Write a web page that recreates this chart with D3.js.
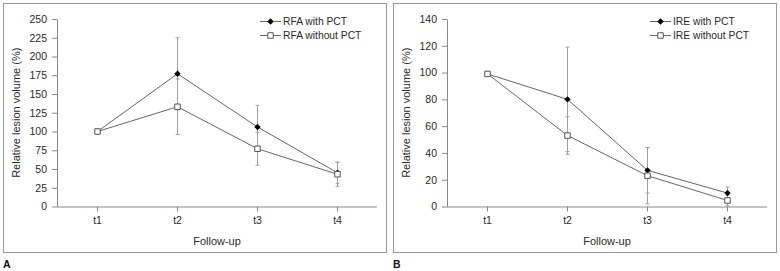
<!DOCTYPE html>
<html>
<head>
<meta charset="utf-8">
<script src="https://d3js.org/d3.v7.min.js"></script>
<style>
  body { margin: 0; background: #fff; }
  text { font-family: "Liberation Sans", Arial, sans-serif; fill: #2a2a2a; }
</style>
</head>
<body>
<div id="main"></div>
<script>
const ctx = {
    w: 780,
    h: 271,
    panelW: 390
};

// data
const followUp = ["t1", "t2", "t3", "t4"];

const rfaWithMean = [100, 177, 106, 45];
const rfaWithSd = [0, 48, 29, 14];
const rfaWithoutMean = [100, 133, 77, 43];
const rfaWithoutSd = [0, 37, 22, 16];

const ireWithMean = [99, 80, 27, 10];
const ireWithSd = [0, 39, 17, 4.5];
const ireWithoutMean = [99, 53, 23, 4.5];
const ireWithoutSd = [0, 14, 21, 4];

const yTicksA = [0, 25, 50, 75, 100, 125, 150, 175, 200, 225, 250];
const yTicksB = [0, 20, 40, 60, 80, 100, 120, 140];

const panels = [
    { letter: "A", names: ["RFA with PCT", "RFA without PCT"],
      means: [rfaWithMean, rfaWithoutMean], sds: [rfaWithSd, rfaWithoutSd], ticks: yTicksA },
    { letter: "B", names: ["IRE with PCT", "IRE without PCT"],
      means: [ireWithMean, ireWithoutMean], sds: [ireWithSd, ireWithoutSd], ticks: yTicksB }
];

//==============================================================================================
function drawPanel(g, p) {
    const left = 57, right = 377, top = 19, bottom = 206.5;

    g.append("rect")
        .attr("x", 3.5).attr("y", 3.5)
        .attr("width", 383).attr("height", 249)
        .attr("fill", "none")
        .attr("stroke", "#9a9a9a");

    g.append("text")
        .attr("x", 3).attr("y", 267.5)
        .attr("font-size", "10.5px")
        .attr("font-weight", "bold")
        .style("fill", "#111")
        .text(p.letter);

    const x = d3.scalePoint().domain(followUp).range([left, right]).padding(0.5);
    const y = d3.scaleLinear().domain([0, d3.max(p.ticks)]).range([bottom, top]);

    const xAxis = g.append("g")
        .attr("transform", `translate(0,${bottom})`)
        .call(d3.axisBottom(x).tickSize(5).tickPadding(5).tickSizeOuter(0));
    xAxis.select(".domain").attr("d", `M${left},0.5H${right}`);
    const yAxis = g.append("g")
        .attr("transform", `translate(${left},0)`)
        .call(d3.axisLeft(y).tickValues(p.ticks).tickSize(5).tickPadding(5).tickSizeOuter(0));

    [xAxis, yAxis].forEach(a => {
        a.select(".domain").attr("stroke", "#8a8a8a");
        a.selectAll(".tick line").attr("stroke", "#8a8a8a");
        a.selectAll(".tick text").attr("font-size", "10.5px").attr("font-family", null).style("fill", "#2a2a2a");
    });

    g.append("text")
        .attr("x", (left + right) / 2).attr("y", 245)
        .attr("text-anchor", "middle")
        .attr("font-size", "11px")
        .text("Follow-up");

    g.append("text")
        .attr("transform", `translate(20,${(top + bottom) / 2}) rotate(-90)`)
        .attr("text-anchor", "middle")
        .attr("font-size", "11px")
        .text("Relative lesion volume (%)");

    // error bars
    const capW = 2;
    p.means.forEach((m, s) => {
        const eg = g.append("g").attr("stroke", "#a0a0a0").attr("stroke-width", 1);
        followUp.forEach((t, i) => {
            if (!p.sds[s][i]) return;
            const cx = Math.round(x(t)) + 0.5;
            const lo = Math.max(0, m[i] - p.sds[s][i]);
            const hi = m[i] + p.sds[s][i];
            eg.append("line").attr("x1", cx).attr("x2", cx).attr("y1", y(lo)).attr("y2", y(hi));
            eg.append("line").attr("x1", cx - capW).attr("x2", cx + capW).attr("y1", y(lo)).attr("y2", y(lo));
            eg.append("line").attr("x1", cx - capW).attr("x2", cx + capW).attr("y1", y(hi)).attr("y2", y(hi));
        });
    });

    // lines
    const line = d3.line().x((d, i) => Math.round(x(followUp[i])) + 0.5).y(d => y(d));
    p.means.forEach(m => {
        g.append("path")
            .attr("d", line(m))
            .attr("fill", "none")
            .attr("stroke", "#666")
            .attr("stroke-width", 1);
    });

    // markers: filled diamond, open square
    const diamond = d3.symbol(d3.symbolDiamond2, 26);
    const square = d3.symbol(d3.symbolSquare, 30);
    g.append("g").selectAll("path")
        .data(p.means[0])
        .enter().append("path")
        .attr("transform", (d, i) => `translate(${Math.round(x(followUp[i])) + 0.5},${y(d)})`)
        .attr("d", diamond)
        .attr("fill", "#000");
    g.append("g").selectAll("path")
        .data(p.means[1])
        .enter().append("path")
        .attr("transform", (d, i) => `translate(${Math.round(x(followUp[i])) + 0.5},${y(d)})`)
        .attr("d", square)
        .attr("fill", "#fff")
        .attr("stroke", "#555");

    // legend
    const legend = g.append("g")
        .selectAll("g")
        .data(p.names)
        .enter().append("g")
        .attr("transform", (d, i) => `translate(260,${21.5 + i * 14})`);
    legend.append("line")
        .attr("x1", 0).attr("x2", 21)
        .attr("stroke", "#666");
    legend.append("path")
        .attr("transform", "translate(10.5,0)")
        .attr("d", (d, i) => i === 0 ? diamond() : square())
        .attr("fill", (d, i) => i === 0 ? "#000" : "#fff")
        .attr("stroke", (d, i) => i === 0 ? null : "#555");
    legend.append("text")
        .attr("x", 23)
        .attr("dy", "0.35em")
        .attr("font-size", "10.3px")
        .text(d => d);
}

function createViz() {
    const svgEl = d3.select("#main").append("svg")
        .attr("width", ctx.w)
        .attr("height", ctx.h);
    const rootG = svgEl.append("g").attr("id", "rootG");
    panels.forEach((p, k) => {
        drawPanel(rootG.append("g").attr("transform", `translate(${k * ctx.panelW},0)`), p);
    });
}

createViz();
</script>
</body>
</html>
